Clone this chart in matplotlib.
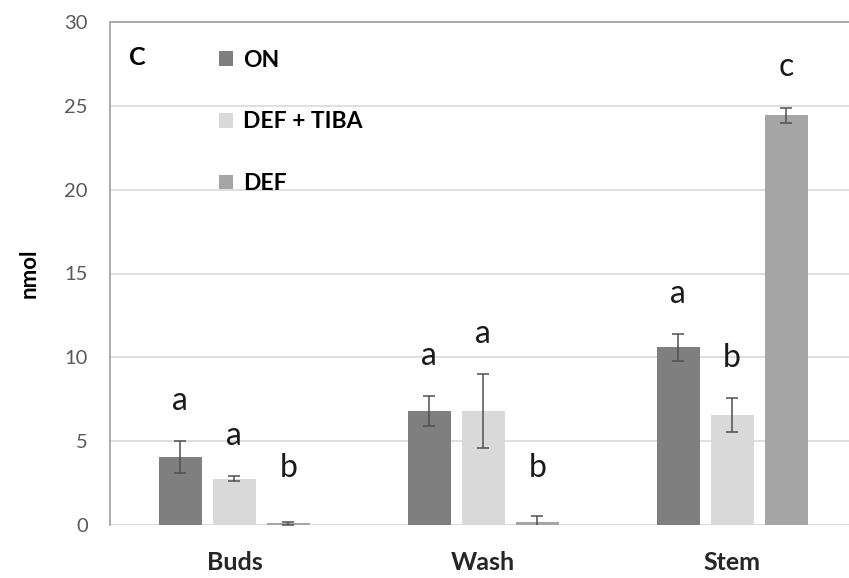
from matplotlib import pyplot as plt
import numpy as np

plt.rcParams['font.family'] = ['Lato', 'DejaVu Sans']

tissues = ['Buds', 'Wash', 'Stem']
series = ['ON', 'DEF + TIBA', 'DEF']

on_vals = [4.05, 6.8, 10.6]
on_err = [0.95, 0.9, 0.8]
tiba_vals = [2.75, 6.8, 6.55]
tiba_err = [0.15, 2.2, 1.0]
def_vals = [0.1, 0.2, 24.45]
def_err = [0.1, 0.35, 0.45]

on_letters = ['a', 'a', 'a']
tiba_letters = ['a', 'a', 'b']
def_letters = ['b', 'b', 'c']

colors = ['#7f7f7f', '#d9d9d9', '#a5a5a5']

fig = plt.figure(figsize=(8.49, 5.78), dpi=100)
ax = fig.add_axes([110/849, 53/578, 739/849, 503/578])

x = np.arange(len(tissues))
width = 0.173
step = 0.217

groups = [(on_vals, on_err, on_letters),
          (tiba_vals, tiba_err, tiba_letters),
          (def_vals, def_err, def_letters)]

for i, (vals, errs, letters) in enumerate(groups):
    pos = x + (i - 1) * step
    ax.bar(pos, vals, width, color=colors[i], label=series[i], zorder=2)
    ax.errorbar(pos, vals, yerr=errs, fmt='none', ecolor='#505050',
                elinewidth=1.1, capsize=4.5, capthick=1.1, zorder=3)
    for p, v, e, t in zip(pos, vals, errs, letters):
        ax.text(p, max(v + e, 1.0) + 2.4, t, ha='center', va='center',
                fontsize=23, color='#1a1a1a', zorder=4)

ax.set_xlim(-0.5, 2.47)
ax.set_ylim(0, 30)
ax.set_yticks(np.arange(0, 31, 5))
ax.yaxis.grid(True, color='#d9d9d9', linewidth=1.2, zorder=0)
ax.set_axisbelow(True)

ax.set_xticks(x)
ax.set_xticklabels(tissues, fontweight='bold', fontsize=18, color='#262626')
ax.tick_params(axis='x', length=0, pad=19)
ax.tick_params(axis='y', length=0, pad=16, labelsize=14.5, labelcolor='#595959')

for s in ['right', 'bottom']:
    ax.spines[s].set_visible(False)
ax.spines['left'].set_color('#a6a6a6')
ax.spines['left'].set_linewidth(1.3)
ax.spines['top'].set_color('#a6a6a6')
ax.spines['top'].set_linewidth(1.3)
ax.axhline(0, color='#d9d9d9', linewidth=1.3, zorder=1)

ax.set_ylabel('nmol', fontweight='bold', fontsize=16, labelpad=18)

ax.text(0.026, 0.93, 'C', transform=ax.transAxes, fontsize=18,
        fontweight='bold', va='center', ha='left')

ax.legend(loc='upper left', bbox_to_anchor=(0.148, 0.945), frameon=False,
          prop={'weight': 'bold', 'size': 16.5}, handlelength=0.6,
          handleheight=0.6, handletextpad=0.45, labelspacing=1.78,
          borderpad=0, borderaxespad=0)

fig.savefig('out.png', dpi=100)
